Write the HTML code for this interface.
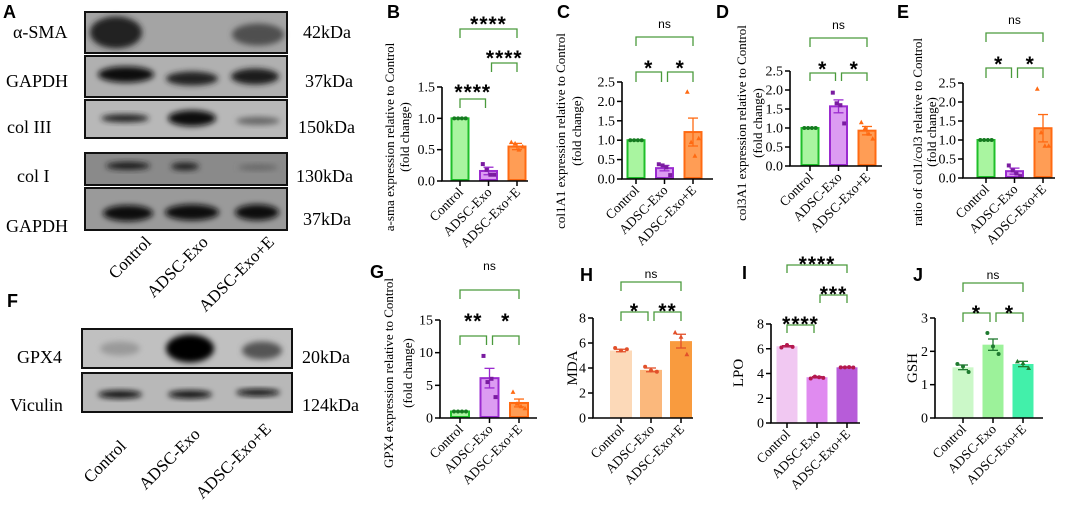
<!DOCTYPE html>
<html><head><meta charset="utf-8">
<style>
html,body{margin:0;padding:0;background:#fff;}
svg{display:block;}
.serif{font-family:"Liberation Serif",serif;}
.sans{font-family:"Liberation Sans",sans-serif;}
</style></head>
<body>
<svg id="fig" width="1065" height="505" viewBox="0 0 1065 505" xmlns="http://www.w3.org/2000/svg">
<defs>
<filter id="blur2" x="-50%" y="-50%" width="200%" height="200%"><feGaussianBlur stdDeviation="3"/></filter>
</defs>
<g id="blots"></g>
<g id="charts"></g>
</svg>
<script>
const NS='http://www.w3.org/2000/svg';
const categories=['Control','ADSC-Exo','ADSC-Exo+E'];

// Panel B
const bMeans=[1.0,0.16,0.55];
const bSems=[0,0.06,0.05];
const bPoints=[[1,1,1,1],[0.27,0.18,0.1,0.1],[0.62,0.6,0.5,0.55]];
const bTicks=['0.0','0.5','1.0','1.5'];
// Panel C
const cMeans=[1.0,0.28,1.21];
const cSems=[0,0.07,0.36];
const cPoints=[[1,1,1,1],[0.38,0.35,0.3,0.1],[2.25,0.95,0.6,1.05]];
const cTicks=['0.0','0.5','1.0','1.5','2.0','2.5'];
// Panel D
const dMeans=[1.0,1.57,0.93];
const dSems=[0,0.17,0.11];
const dPoints=[[1,1,1,1],[1.93,1.65,1.6,1.12],[1.15,1.0,0.85,0.72]];
const dTicks=['0.0','0.5','1.0','1.5','2.0','2.5'];
// Panel E
const eMeans=[1.0,0.18,1.31];
const eSems=[0,0.08,0.36];
const ePoints=[[1,1,1,1],[0.33,0.2,0.12,0.05],[2.35,1.2,0.85,0.85]];
const eTicks=['0.0','0.5','1.0','1.5','2.0','2.5'];
// Panel G
const gMeans=[1.0,6.1,2.3];
const gSems=[0,1.5,0.6];
const gPoints=[[1,1,1,1],[9.5,5.5,6.0,3.2],[4.0,2.2,1.8,1.5]];
const gTicks=['0','5','10','15'];
// Panel H
const hMeans=[5.4,3.85,6.15];
const hSems=[0.1,0.15,0.55];
const hPoints=[[5.6,5.4,5.5],[4.1,3.8,3.7],[6.85,6.5,5.1]];
const hTicks=['0','2','4','6','8'];
// Panel I
const iMeans=[6.2,3.7,4.5];
const iSems=[0.05,0.05,0.02];
const iPoints=[[6.1,6.3,6.15],[3.6,3.75,3.7,3.65],[4.5,4.5,4.52,4.48]];
const iTicks=['0','2','4','6','8'];
// Panel J
const jMeans=[1.52,2.2,1.62];
const jSems=[0.07,0.17,0.08];
const jPoints=[[1.62,1.55,1.38],[2.55,2.15,1.92],[1.7,1.65,1.5]];
const jTicks=['0','1','2','3'];

function el(tag,attrs,parent,text){
  const e=document.createElementNS(NS,tag);
  for(const k in attrs) e.setAttribute(k,attrs[k]);
  if(text!==undefined) e.textContent=text;
  if(parent) parent.appendChild(e);
  return e;
}
const charts=document.getElementById('charts');
const blots=document.getElementById('blots');

const greenSet={fill:['#a9f5a0','#dc9cf2','#ff9d55'],stroke:['#1fbf2a','#9b2bd0','#ff6a12'],dot:['#157a20','#7a1ca0','#ff6a12'],shape:['circle','square','triangle']};
const panels=[
 {id:'b',letter:'B',lx:387,ly:18,means:bMeans,sems:bSems,pts:bPoints,ticks:bTicks,max:1.5,axisX:442,base:181,top:87,x0:460,step:28.5,bw:19,end:528,style:greenSet,
  titles:[['a-sma expression relative to Control',390],['(fold change)',405]],tcy:137,
  brackets:[[0,2,29,9,'****',22,true],[1,2,63,9,'****',56,true],[0,1,99,9,'****',90,true]]},
 {id:'c',letter:'C',lx:557,ly:18,means:cMeans,sems:cSems,pts:cPoints,ticks:cTicks,max:2.5,axisX:622,base:179,top:82,x0:636,step:28.5,bw:19,end:713,style:greenSet,
  titles:[['col1A1 expression relative to Control',561],['(fold change)',577]],tcy:131,
  brackets:[[0,2,37,9,'ns',28,false],[0,1,72,10,'*',66,true],[1,2,72,10,'*',66,true]]},
 {id:'d',letter:'D',lx:716,ly:18,means:dMeans,sems:dSems,pts:dPoints,ticks:dTicks,max:2.5,axisX:790,base:166,top:71,x0:810,step:28.5,bw:19,end:882,style:greenSet,
  titles:[['col3A1 expression relative to Control',742],['(fold change)',758]],tcy:123,
  brackets:[[0,2,38,9,'ns',29,false],[0,1,73,8,'*',67,true],[1,2,73,8,'*',67,true]]},
 {id:'e',letter:'E',lx:897,ly:18,means:eMeans,sems:eSems,pts:ePoints,ticks:eTicks,max:2.5,axisX:963,base:178,top:83,x0:986,step:28.5,bw:19,end:1055,style:greenSet,
  titles:[['ratio of col1/col3 relative to Control',918],['(fold change)',932]],tcy:132,
  brackets:[[0,2,33,9,'ns',24,false],[0,1,68,10,'*',62,true],[1,2,68,10,'*',62,true]]},
 {id:'g',letter:'G',lx:370,ly:278,means:gMeans,sems:gSems,pts:gPoints,ticks:gTicks,max:15,axisX:440,base:418,top:320,x0:460,step:29.5,bw:20,end:537,style:greenSet,
  titles:[['GPX4 expression relative to Control',389],['(fold change)',408]],tcy:373,
  brackets:[[0,2,290,9,'ns',270,false],[0,1,336,9,'**',319,true],[1,2,336,9,'*',319,true]]},
 {id:'h',letter:'H',lx:580,ly:281,means:hMeans,sems:hSems,pts:hPoints,ticks:hTicks,max:8,axisX:593,base:418,top:318,x0:621,step:30,bw:22,end:693,
  style:{fill:['#fcd9b8','#fbb87c','#f99b3e'],stroke:[null,null,null],dot:['#e2502a','#e2502a','#e2502a'],shape:['circle','circle','triangle']},
  titles:[['MDA',573]],tcy:368,
  brackets:[[0,2,282,9,'ns',278,false],[0,1,312,9,'*',309,true],[1,2,312,9,'**',309,true]]},
 {id:'i',letter:'I',lx:742,ly:279,means:iMeans,sems:iSems,pts:iPoints,ticks:iTicks,max:8,axisX:771,base:423,top:324,x0:787,step:30,bw:21,end:860,
  style:{fill:['#f1c8f2','#e08bf0','#b75cd9'],stroke:[null,null,null],dot:['#b4184e','#b4184e','#b4184e'],shape:['circle','circle','circle']},
  titles:[['LPO',739]],tcy:373,
  brackets:[[0,2,265,8,'****',262,true],[1,2,295,8,'***',292,true],[0,1,325,8,'****',322,true]]},
 {id:'j',letter:'J',lx:913,ly:281,means:jMeans,sems:jSems,pts:jPoints,ticks:jTicks,max:3,axisX:935,base:418,top:318,x0:963,step:30,bw:21,end:1043,
  style:{fill:['#cbf8c8','#9cf29a','#42f0aa'],stroke:[null,null,null],dot:['#1f7a30','#1f7a30','#1f7a30'],shape:['circle','circle','triangle']},
  titles:[['GSH',913]],tcy:368,
  brackets:[[0,2,283,9,'ns',279,false],[0,1,313,9,'*',311,true],[1,2,313,9,'*',311,true]]}
];

panels.forEach(p=>{
  const g=el('g',{},charts);
  
  
  const y=v=>p.base-(v/p.max)*(p.base-p.top);
  const x=i=>p.x0+i*p.step;
  const lt=el('text',{x:p.lx,y:p.ly,'font-size':18,'font-weight':'bold',class:'sans'},g,p.letter);
  
  
  p.titles.forEach((t,k)=>{
    const tt=el('text',{x:0,y:0,'font-size':p.titles.length>1?13:15,'text-anchor':'middle',class:'serif',transform:`translate(${t[1]+4},${p.tcy}) rotate(-90)`},g,t[0]);
    
    
  });
  p.means.forEach((m,i)=>{
    const cx=x(i), st=p.style;
    const sw=st.stroke[i]?2:0;
    const r=el('rect',{x:cx-p.bw/2+sw/2,y:y(m),width:p.bw-sw,height:Math.max(0,p.base-y(m)-sw/2),fill:st.fill[i],stroke:st.stroke[i]||'none','stroke-width':sw},g);
    
    
    const ec=st.stroke[i]||st.dot[i];
    if(p.sems[i]>0){
      el('line',{x1:cx,x2:cx,y1:y(m+p.sems[i]),y2:y(m-p.sems[i]),stroke:ec,'stroke-width':1.3},g);
      el('line',{x1:cx-5,x2:cx+5,y1:y(m+p.sems[i]),y2:y(m+p.sems[i]),stroke:ec,'stroke-width':1.3},g);
      el('line',{x1:cx-5,x2:cx+5,y1:y(m-p.sems[i]),y2:y(m-p.sems[i]),stroke:ec,'stroke-width':1.3},g);
    }
    const n=p.pts[i].length;
    p.pts[i].forEach((v,k)=>{
      const px=cx+(k-(n-1)/2)*(p.bw*0.8/(n));
      const py=y(v);
      let d;
      if(st.shape[i]==='circle') d=el('circle',{cx:px,cy:py,r:2,fill:st.dot[i]},g);
      else if(st.shape[i]==='square') d=el('rect',{x:px-2,y:py-2,width:4,height:4,fill:st.dot[i]},g);
      else d=el('path',{d:`M${px},${py-2.5}L${px+2.4},${py+2}L${px-2.4},${py+2}Z`,fill:st.dot[i]},g);
      
      
    });
    el('line',{x1:cx,x2:cx,y1:p.base,y2:p.base+5,stroke:'#000','stroke-width':1.5},g);
    const xl=el('text',{x:0,y:0,'font-size':13.5,'text-anchor':'end',class:'serif',transform:`translate(${cx+4},${p.base+12}) rotate(-45)`},g,categories[i]);
    
    
  });
  const ax=el('path',{d:`M${p.axisX},${p.top}V${p.base}H${p.end}`,fill:'none',stroke:'#000','stroke-width':1.6},g);
  
  
  const nT=p.ticks.length;
  p.ticks.forEach((t,k)=>{
    const ty=y(p.max*k/(nT-1));
    el('line',{x1:p.axisX-5,x2:p.axisX,y1:ty,y2:ty,stroke:'#000','stroke-width':1.5},g);
    const tl=el('text',{x:p.axisX-7,y:ty+4.5,'font-size':14,'text-anchor':'end',class:'serif'},g,t);
    
    
  });
  p.brackets.forEach(b=>{
    let x1=x(b[0]), x2=x(b[1]);
    if(b[1]-b[0]===1){ if(b[0]===0) x2-=3; else x1+=3; }
    const br=el('path',{d:`M${x1},${b[2]+b[3]}V${b[2]}H${x2}V${b[2]+b[3]}`,fill:'none',stroke:'#4a9a3c','stroke-width':1.3},g);
    
    
    const lab=el('text',{x:(x1+x2)/2,y:b[5]+(b[6]?9:0),'font-size':b[6]?21:12,'font-weight':b[6]?'bold':'normal','text-anchor':'middle',class:'sans','letter-spacing':b[6]?'1':'0'},g,b[4]);
    
    
  });
});

function blotRow(x0,y0,w,h,bg,bands,label,lx,ly,kda,kx,name){
  const g=el('g',{},blots);
  
  
  el('rect',{x:x0,y:y0,width:w,height:h,fill:bg},g);
  bands.forEach(b=>{
    el('ellipse',{cx:b[0],cy:y0+h*b[1],rx:b[2],ry:b[3],fill:b[4],filter:'url(#blur2)'},g);
  });
  el('rect',{x:x0,y:y0,width:w,height:h,fill:'none',stroke:'#111','stroke-width':2},g);
  const t=el('text',{x:lx,y:ly,'font-size':18,class:'serif'},g,label);
  
  
  const k=el('text',{x:kx,y:ly,'font-size':18,class:'serif'},g,kda);
  
  
}
blotRow(85,12,202,41,'#a4a4a4',[[116,0.5,26,16,'#222'],[258,0.55,26,11,'#505050']],'α-SMA',13,38,'42kDa',303,'a-sma');
blotRow(85,56,202,41,'#b0b0b0',[[126,0.45,28,8,'#111'],[192,0.55,26,7,'#222'],[255,0.5,24,8,'#1a1a1a']],'GAPDH',6,87,'37kDa',305,'gapdh-1');
blotRow(85,100,202,38,'#b8b8b8',[[125,0.48,24,4,'#222'],[192,0.48,24,8,'#0a0a0a'],[258,0.55,22,4,'#666']],'col  III',7,133,'150kDa',298,'col-iii');
blotRow(85,153,202,32,'#8a8a8a',[[128,0.4,22,4,'#1a1a1a'],[185,0.42,14,4,'#222'],[258,0.45,20,3,'#666']],'col  I',17,182,'130kDa',296,'col-i');
blotRow(85,188,202,42,'#9a9a9a',[[128,0.6,25,8,'#111'],[192,0.58,27,8,'#0a0a0a'],[257,0.58,22,8,'#111']],'',6,225,'37kDa',303,'gapdh-2');
(function(){const t=el('text',{x:6,y:232,'font-size':18,class:'serif'},blots,'GAPDH');})();
blotRow(82,329,210,39,'#c0c0c0',[[120,0.5,20,7,'#9a9a9a'],[190,0.5,24,14,'#050505'],[262,0.55,20,9,'#555']],'GPX4',17,363,'20kDa',302,'gpx4');
blotRow(82,373,210,39,'#b8b8b8',[[120,0.55,22,4,'#111'],[190,0.55,22,4,'#111'],[258,0.5,22,3.5,'#111']],'Viculin',10,411,'124kDa',302,'viculin');
const laneTopA=[[145,236],[202,236],[268,236]];
const laneF=[[120,440],[194,428],[265,423]];
[laneTopA,laneF].forEach((arr,k)=>{
  arr.forEach((pt,i)=>{
    const t=el('text',{x:0,y:0,'font-size':17,'text-anchor':'end',class:'serif',transform:`translate(${pt[0]},${pt[1]}) rotate(-45) translate(0,10)`},blots,categories[i]);
    
    
  });
});
(function(){
 const a=el('text',{x:3,y:18,'font-size':18,'font-weight':'bold',class:'sans'},blots,'A');
 
 const f=el('text',{x:7,y:307,'font-size':18,'font-weight':'bold',class:'sans'},blots,'F');
 
})();
</script>
</body></html>
